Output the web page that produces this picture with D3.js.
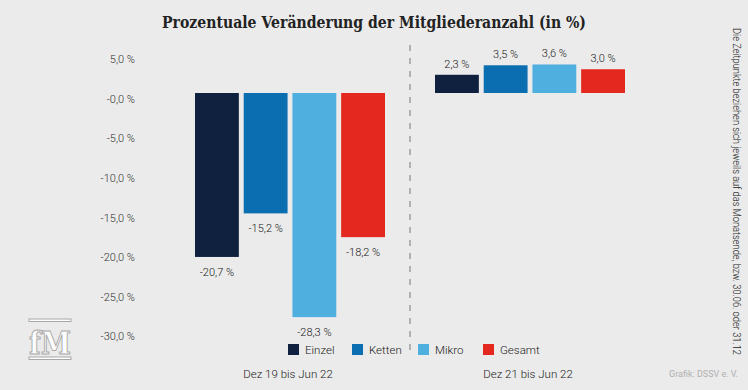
<!DOCTYPE html>
<html><head><meta charset="utf-8">
<script src="https://cdn.jsdelivr.net/npm/d3@7"></script>
<style>html,body{margin:0;padding:0;background:#ebebeb;}svg{display:block;}</style>
</head><body><svg id="c" width="748" height="390"></svg>
<script>
const groups = ["Dez 19 bis Jun 22", "Dez 21 bis Jun 22"];
const series = ["Einzel", "Ketten", "Mikro", "Gesamt"];
const valuesDez19 = [-20.7, -15.2, -28.3, -18.2];
const valuesDez21 = [2.3, 3.5, 3.6, 3.0];
const yTicks = [5, 0, -5, -10, -15, -20, -25, -30];
const colors = ["#10213f", "#0a6eb0", "#4fb0e0", "#e5281f"];

const data = [valuesDez19, valuesDez21];
const svg = d3.select("#c");
const font = "Roboto, 'Liberation Sans', sans-serif";
const fmt = v => (v <= 0 ? "-" : "") + d3.format(".1f")(Math.abs(v)).replace(".", ",") + " %";

const y = d3.scaleLinear().domain([0, 5]).range([93, 53.4]);
const x0 = d3.scaleBand().domain(groups).range([170, 652]).paddingInner(0.0).paddingOuter(0);
const x1 = d3.scaleBand().domain(series).range([0, 190]).paddingInner(0.1);

// title
svg.append("text").attr("x", 374).attr("y", 28).attr("text-anchor", "middle")
  .attr("font-family", "'DejaVu Serif', serif").attr("font-weight", "bold")
  .attr("font-size", 17).attr("fill", "#222").attr("textLength", 424).attr("lengthAdjust", "spacingAndGlyphs")
  .text("Prozentuale Veränderung der Mitgliederanzahl (in %)");

// y axis
const yAxis = d3.axisLeft(y).tickValues(yTicks).tickSize(0).tickPadding(0).tickFormat(fmt);
const ga = svg.append("g").attr("transform", "translate(135,0)").call(yAxis);
ga.select(".domain").remove();
ga.selectAll("text").attr("font-family", font).attr("font-size", 11).attr("fill", "#333")
  .attr("dy", "0.85em").attr("font-weight", 300);

// separator
svg.append("line").attr("x1", 410).attr("x2", 410).attr("y1", 45).attr("y2", 352)
  .attr("stroke", "#777").attr("stroke-width", 1).attr("stroke-dasharray", "6,7");

// bars
const offsets = [25, 24];
groups.forEach((g, gi) => {
  const gx = x0(g) + offsets[gi];
  const gg = svg.append("g").attr("transform", `translate(${gx},0)`);
  series.forEach((s, si) => {
    const v = data[gi][si];
    const top = Math.min(y(v), y(0)), h = Math.abs(y(v) - y(0));
    gg.append("rect").attr("x", x1(s)).attr("y", top).attr("width", x1.bandwidth()).attr("height", h)
      .attr("fill", colors[si]);
    gg.append("text").attr("x", x1(s) + x1.bandwidth() / 2)
      .attr("y", v < 0 ? y(v) + 19 : y(v) - 7)
      .attr("text-anchor", "middle").attr("font-family", font).attr("font-size", 11).attr("font-weight", 300)
      .attr("fill", "#222").text(fmt(v));
  });
  svg.append("text").attr("x", gx + 93).attr("y", 378).attr("text-anchor", "middle")
    .attr("font-family", font).attr("font-size", 11.5).attr("font-weight", 300).attr("fill", "#222").text(g);
});

// legend
const legX = [288, 352, 418, 483];
series.forEach((s, i) => {
  svg.append("rect").attr("x", legX[i]).attr("y", 344).attr("width", 11).attr("height", 11).attr("fill", colors[i]);
  svg.append("text").attr("x", legX[i] + 17).attr("y", 354).attr("font-family", font)
    .attr("font-size", 11.5).attr("font-weight", 300).attr("fill", "#222").text(s);
});

// side note
svg.append("text").attr("transform", "translate(733,28) rotate(90)")
  .attr("font-family", font).attr("font-size", 10).attr("font-weight", 300).attr("fill", "#222")
  .attr("textLength", 327).attr("lengthAdjust", "spacingAndGlyphs")
  .text("Die Zeitpunkte beziehen sich jeweils auf das Monatsende, bzw. 30.06. oder 31.12");
svg.append("text").attr("x", 738).attr("y", 377).attr("text-anchor", "end")
  .attr("font-family", font).attr("font-size", 9).attr("fill", "#b0b0b0").text("Grafik: DSSV e. V.");

// logo
const lg = svg.append("g").attr("fill", "#fdfdfd").attr("stroke", "#a8a8a8").attr("stroke-width", 1);
lg.append("rect").attr("x", 29).attr("y", 319).attr("width", 42).attr("height", 2.5);
lg.append("rect").attr("x", 29).attr("y", 357).attr("width", 42).attr("height", 2.5);
lg.append("text").attr("x", 50).attr("y", 354).attr("text-anchor", "middle")
  .attr("font-family", "'DejaVu Serif', serif").attr("font-weight", "bold").attr("font-size", 32)
  .attr("textLength", 42).attr("lengthAdjust", "spacingAndGlyphs").text("fM");
</script></body></html>
